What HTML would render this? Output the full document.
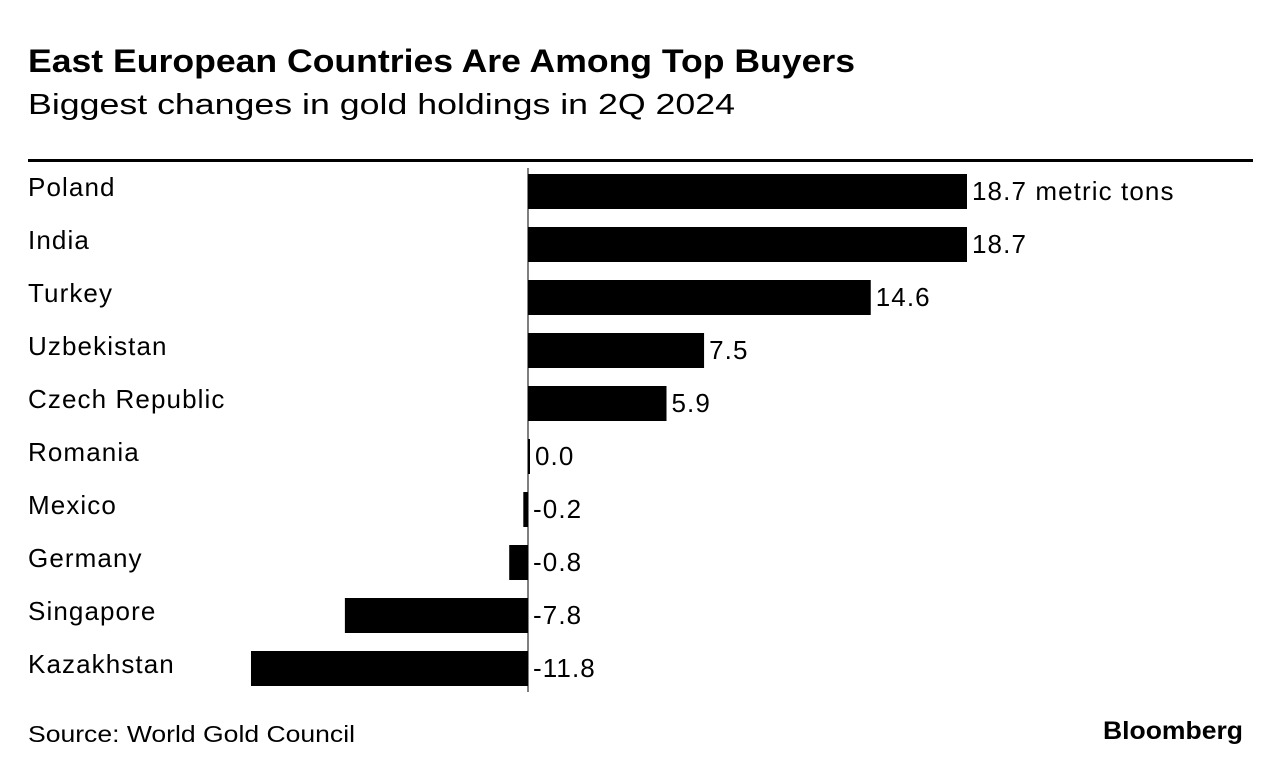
<!DOCTYPE html>
<html><head><meta charset="utf-8"><style>
body{margin:0;background:#fff;width:1282px;height:774px;overflow:hidden;font-family:"Liberation Sans",Arial,sans-serif;color:#000}
</style></head><body>
<svg width="1282" height="774" xmlns="http://www.w3.org/2000/svg" font-family="Liberation Sans, Arial, sans-serif">
<text x="28" y="72" font-size="32" font-weight="bold" textLength="827" lengthAdjust="spacingAndGlyphs">East European Countries Are Among Top Buyers</text>
<text x="28" y="114" font-size="29" textLength="707" lengthAdjust="spacingAndGlyphs">Biggest changes in gold holdings in 2Q 2024</text>
<rect x="28" y="159" width="1225" height="3" fill="#000"/>
<g id="bars"></g>
<text x="28" y="742" font-size="23" textLength="327" lengthAdjust="spacingAndGlyphs">Source: World Gold Council</text>
<text x="1103" y="739" font-size="25" font-weight="bold" textLength="140" lengthAdjust="spacingAndGlyphs">Bloomberg</text>
</svg>
<script>
const categories=["Poland","India","Turkey","Uzbekistan","Czech Republic","Romania","Mexico","Germany","Singapore","Kazakhstan"];
const values=[18.7,18.7,14.6,7.5,5.9,0.0,-0.2,-0.8,-7.8,-11.8];
const valueLabels=["18.7 metric tons","18.7","14.6","7.5","5.9","0.0","-0.2","-0.8","-7.8","-11.8"];
const NS="http://www.w3.org/2000/svg";
const g=document.getElementById("bars");
const zeroX=528, scale=439/18.7;
const x=v=>zeroX+v*scale;
const y=i=>174+i*53;
const barH=35;
function mk(t,a){const e=document.createElementNS(NS,t);for(const k in a)e.setAttribute(k,a[k]);return e;}
categories.forEach((c,i)=>{
  const v=values[i];
  const lab=mk("text",{x:28,y:y(i)+22,"font-size":26,"letter-spacing":1.1});
  lab.textContent=c;
  
  
  g.appendChild(lab);
  let x0=Math.min(x(0),x(v)),w=Math.abs(x(v)-x(0));
  if(w<2){w=2;}
  const r=mk("rect",{x:x0,y:y(i),width:w,height:barH,fill:"#000"});
  
  
  g.appendChild(r);
  const vx=(v>=0?Math.max(x(v),x(0)+2):x(0))+5;
  const vl=mk("text",{x:vx,y:y(i)+26,"font-size":26,"letter-spacing":1.1});
  vl.textContent=valueLabels[i];
  
  
  g.appendChild(vl);
});
const zl=mk("line",{x1:zeroX,x2:zeroX,y1:168,y2:692,stroke:"#000","stroke-width":1});


g.appendChild(zl);
</script>
</body></html>
